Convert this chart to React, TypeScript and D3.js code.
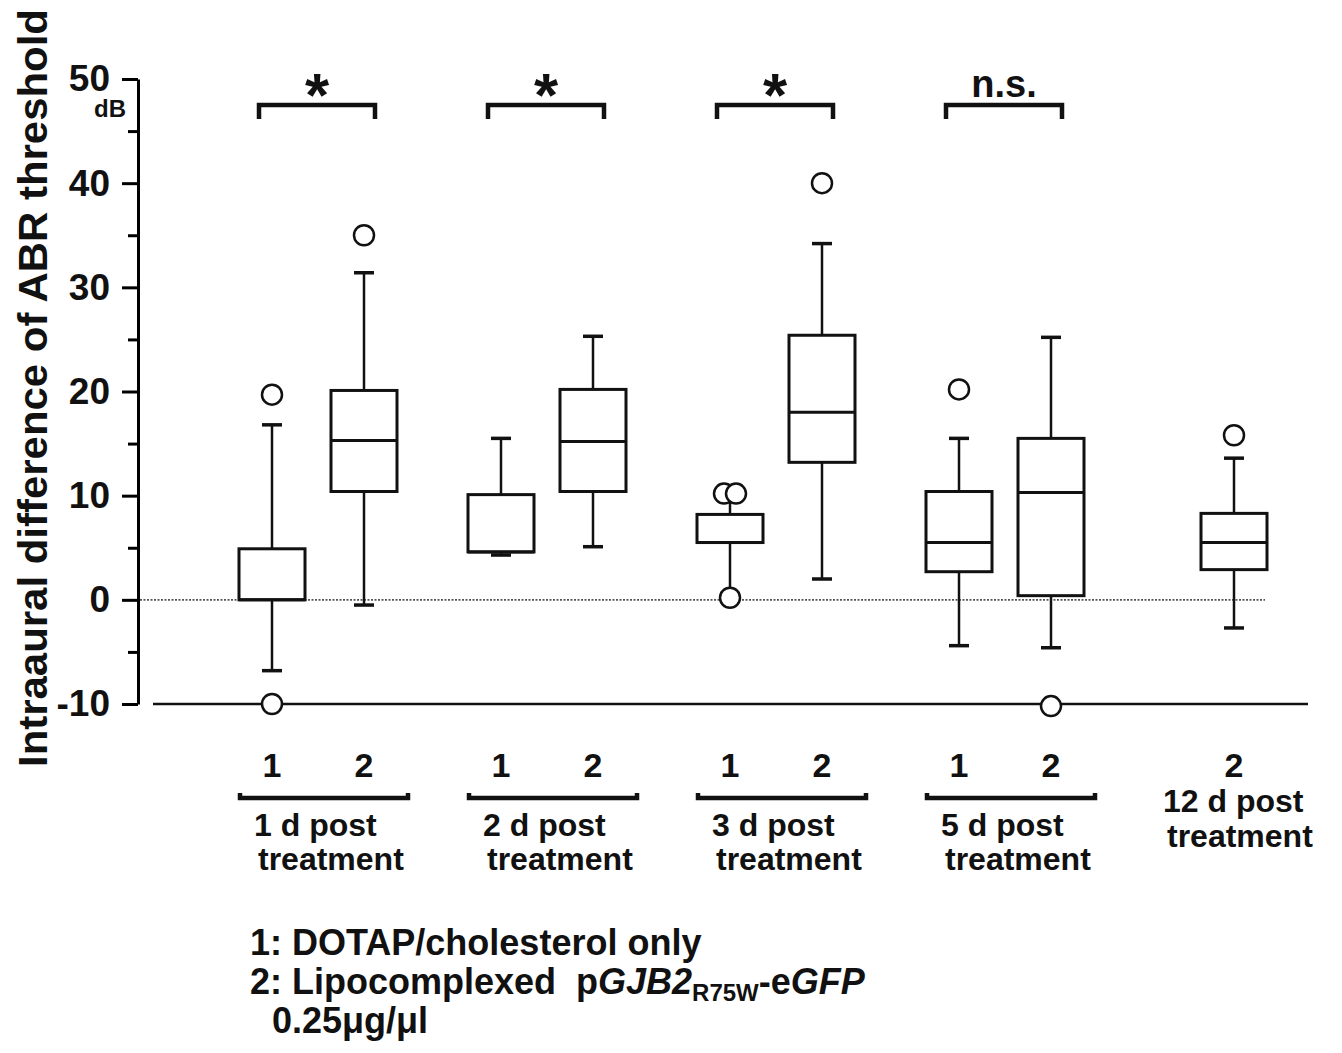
import React, { useEffect, useRef } from 'react';
import * as d3 from 'd3';

// groups along the x axis (days after treatment)
const groups = ['1 d', '2 d', '3 d', '5 d', '12 d'];
const groupLabels = ['1 d post', '2 d post', '3 d post', '5 d post', '12 d post'];

// one entry per box
const boxGroup = ['1 d', '1 d', '2 d', '2 d', '3 d', '3 d', '5 d', '5 d', '12 d'];
const boxTreatment = ['1', '2', '1', '2', '1', '2', '1', '2', '2'];
const whiskerLow = [-6.8, -0.5, 4.3, 5.1, 0.6, 2.0, -4.4, -4.6, -2.7];
const q1 = [0, 10.4, 4.6, 10.4, 5.5, 13.2, 2.7, 0.4, 2.9];
const median = [0, 15.3, 4.6, 15.2, 5.5, 18.0, 5.5, 10.3, 5.5];
const q3 = [4.9, 20.1, 10.1, 20.2, 8.2, 25.4, 10.4, 15.5, 8.3];
const whiskerHigh = [16.8, 31.4, 15.5, 25.3, 10.2, 34.2, 15.5, 25.2, 13.6];
const outliers = [[19.7, -10], [35], [], [], [10.2, 10.2, 0.2], [40], [20.2], [-10.2], [15.8]];

// significance between treatment 1 and 2 of each paired group
const significance = ['*', '*', '*', 'n.s.'];

const yTickLabels = [-10, 0, 10, 20, 30, 40, 50];
const yMinorTicks = [-5, 5, 15, 25, 35, 45];

const FONT = '"Liberation Sans", Arial, Helvetica, sans-serif';

const App = () => {
    const axisRef = useRef<SVGGElement>(null);

    const y = d3.scaleLinear().domain([-10, 50]).range([704, 79]);
    const xGroup = d3.scalePoint().domain(groups).range([318, 1234]);

    const boxX = (i: number) => {
        const members = boxTreatment.filter((_, j) => boxGroup[j] === boxGroup[i]);
        const inner = d3.scalePoint().domain(members).range([-46, 46]);
        return (xGroup(boxGroup[i]) as number) + (inner(boxTreatment[i]) as number);
    };

    useEffect(() => {
        const g = d3.select(axisRef.current);
        g.selectAll('*').remove();
        const axis = d3
            .axisLeft(y)
            .tickValues([...yTickLabels, ...yMinorTicks])
            .tickSize(16)
            .tickSizeOuter(0)
            .tickPadding(12)
            .tickFormat(d => (yTickLabels.includes(+d) ? String(d) : ''));
        g.call(axis);
        g.select('.domain').attr('stroke-width', 3);
        g.selectAll('.tick line').attr('stroke-width', 3);
        g.selectAll('.tick')
            .filter((d: any) => yMinorTicks.includes(d))
            .select('line')
            .attr('x2', -10);
        g.selectAll('.tick text')
            .attr('font-family', FONT)
            .attr('font-weight', 'bold')
            .attr('font-size', 37)
            .attr('fill', '#111');
    }, []);

    const boxWidth = 66;
    const capHalf = 10;
    const pairedGroups = groups.filter(gr => boxGroup.filter(b => b === gr).length === 2);

    const boxes = boxGroup.map((_, i) => {
        const cx = boxX(i);
        const seen: Record<string, number> = {};
        const counts: Record<string, number> = {};
        outliers[i].forEach(v => (counts[v] = (counts[v] || 0) + 1));
        return (
            <g key={i} stroke="#111" fill="none">
                <line x1={cx} x2={cx} y1={y(q3[i])} y2={y(whiskerHigh[i])} strokeWidth={2.5} />
                <line x1={cx - capHalf} x2={cx + capHalf} y1={y(whiskerHigh[i])} y2={y(whiskerHigh[i])} strokeWidth={3.5} />
                <line x1={cx} x2={cx} y1={y(q1[i])} y2={y(whiskerLow[i])} strokeWidth={2.5} />
                <line x1={cx - capHalf} x2={cx + capHalf} y1={y(whiskerLow[i])} y2={y(whiskerLow[i])} strokeWidth={3.5} />
                <rect
                    x={cx - boxWidth / 2}
                    width={boxWidth}
                    y={y(q3[i])}
                    height={y(q1[i]) - y(q3[i])}
                    fill="#fff"
                    strokeWidth={3}
                />
                <line x1={cx - boxWidth / 2} x2={cx + boxWidth / 2} y1={y(median[i])} y2={y(median[i])} strokeWidth={3} />
                {outliers[i].map((v, k) => {
                    const n = counts[v];
                    const idx = (seen[v] = (seen[v] ?? -1) + 1);
                    const dx = n > 1 ? (idx - (n - 1) / 2) * 12 : 0;
                    return <circle key={k} cx={cx + dx} cy={y(v)} r={10} fill="#fff" strokeWidth={2.5} />;
                })}
            </g>
        );
    });

    const text = { fontFamily: FONT, fontWeight: 'bold' as const, fill: '#111' };

    return (
        <svg width={1342} height={1053} style={{ position: 'absolute', left: 0, top: 0, background: '#fff' }}>
            {/* y axis title */}
            <text
                transform="translate(47,388) rotate(-90)"
                textAnchor="middle"
                fontSize={40}
                textLength={758}
                lengthAdjust="spacingAndGlyphs"
                {...text}
            >
                Intraaural difference of ABR threshold
            </text>
            <text x={126} y={117} textAnchor="end" fontSize={24} {...text}>dB</text>

            <g ref={axisRef} transform="translate(138,0)" />

            {/* reference lines */}
            <line x1={140} x2={1265} y1={y(0)} y2={y(0)} stroke="#555" strokeWidth={1.8} strokeDasharray="2 1.5" />
            <line x1={153} x2={1308} y1={y(-10)} y2={y(-10)} stroke="#111" strokeWidth={2.5} />

            {boxes}

            {/* significance brackets */}
            {pairedGroups.map((gr, k) => {
                const i1 = boxGroup.indexOf(gr);
                const x1 = boxX(i1) - 13;
                const x2 = boxX(i1 + 1) + 11;
                const top = 105;
                const mid = (x1 + x2) / 2;
                const label = significance[k];
                return (
                    <g key={gr}>
                        <path d={`M${x1},${top + 14}V${top}H${x2}V${top + 14}`} fill="none" stroke="#111" strokeWidth={4.5} />
                        {label === '*' ? (
                            <text x={mid} y={116} textAnchor="middle" fontSize={62} {...text}>*</text>
                        ) : (
                            <text x={mid} y={97} textAnchor="middle" fontSize={38} {...text}>{label}</text>
                        )}
                    </g>
                );
            })}

            {/* treatment numbers */}
            {boxGroup.map((_, i) => (
                <text key={i} x={boxX(i)} y={777} textAnchor="middle" fontSize={34} {...text}>
                    {boxTreatment[i]}
                </text>
            ))}

            {/* group brackets and labels */}
            {groups.map((gr, k) => {
                const idx = boxGroup.map((b, j) => (b === gr ? j : -1)).filter(j => j >= 0);
                if (idx.length === 2) {
                    const x1 = boxX(idx[0]) - 32;
                    const x2 = boxX(idx[1]) + 44;
                    return (
                        <g key={gr}>
                            <path d={`M${x1},${793}V${798}H${x2}V${793}`} fill="none" stroke="#111" strokeWidth={4.5} />
                            <text x={x1 + 14} y={836} fontSize={32} {...text}>{groupLabels[k]}</text>
                            <text x={x1 + 18} y={870} fontSize={32} {...text}>treatment</text>
                        </g>
                    );
                }
                const cx = xGroup(gr) as number;
                return (
                    <g key={gr}>
                        <text x={cx - 71} y={812} fontSize={32} {...text}>{groupLabels[k]}</text>
                        <text x={cx - 67} y={847} fontSize={32} {...text}>treatment</text>
                    </g>
                );
            })}

            {/* legend */}
            <g fontSize={36} {...text}>
                <text x={250} y={955}>1: DOTAP/cholesterol only</text>
                <text x={250} y={994} xmlSpace="preserve">
                    2: Lipocomplexed  p<tspan fontStyle="italic">GJB2</tspan>
                    <tspan fontSize={24} dy={7}>R75W</tspan>
                    <tspan dy={-7}>-e</tspan>
                    <tspan fontStyle="italic">GFP</tspan>
                </text>
                <text x={272} y={1033}>0.25μg/μl</text>
            </g>
        </svg>
    );
};

export default App;
